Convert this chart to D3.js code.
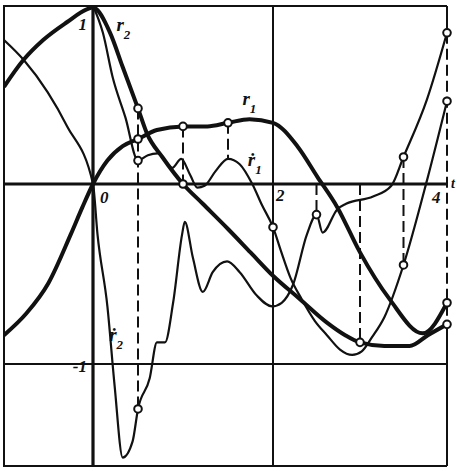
<!DOCTYPE html>
<html>
<head>
<meta charset="utf-8">
<script src="https://cdn.jsdelivr.net/npm/d3@7"></script>
<style>
    html, body { margin: 0; padding: 0; background: #fff; }
    svg { display: block; }
    .lbl { font-family: 'Liberation Serif', 'DejaVu Serif', serif; font-style: italic; font-weight: bold; fill: #111; }
</style>
</head>
<body>
<svg id="chart" width="457" height="471"></svg>
<script>
// plot window (t across, value up)
const tBreaks = [-1, 0, 2, 4]
const vMin = -1.567
const vMax = 0.989

const gridT = [0, 2]
const gridV = [0, -1]

// thick curves
const r1 = [[-1, -0.84], [-0.75, -0.72], [-0.5, -0.55], [-0.25, -0.28], [-0.12, -0.13], [0, 0],
    [0.16, 0.13], [0.33, 0.21], [0.5, 0.25], [0.71, 0.3], [1, 0.32], [1.27, 0.32], [1.5, 0.34],
    [1.74, 0.36], [2, 0.34], [2.28, 0.21], [2.51, 0.04], [2.74, -0.13], [3, -0.38], [3.34, -0.64],
    [3.72, -0.83], [4, -0.66]]
const r2 = [[-1, 0.54], [-0.78, 0.69], [-0.56, 0.8], [-0.29, 0.9], [-0.07, 0.97], [0, 0.98],
    [0.19, 0.84], [0.33, 0.65], [0.5, 0.42], [0.6, 0.28], [0.77, 0.15], [1, 0], [1.22, -0.11],
    [1.5, -0.25], [1.75, -0.38], [2, -0.51], [2.31, -0.64], [2.62, -0.77], [2.83, -0.84], [3, -0.88],
    [3.28, -0.9], [3.57, -0.9], [3.78, -0.84], [4, -0.78]]

// thin curves (derivatives)
const r1Dot = [[0, 0.99], [0.11, 0.84], [0.22, 0.59], [0.36, 0.37], [0.5, 0.13], [0.61, 0.16],
    [0.72, 0.17], [0.88, 0.09], [0.98, 0.14], [1.08, 0.05], [1.16, -0.02], [1.24, -0.01], [1.36, 0.07],
    [1.5, 0.14], [1.63, 0.11], [1.77, 0], [1.88, -0.12], [2, -0.24], [2.09, -0.37], [2.2, -0.52],
    [2.33, -0.64], [2.48, -0.76], [2.62, -0.84], [2.77, -0.92], [2.91, -0.95], [3.02, -0.93],
    [3.14, -0.85], [3.28, -0.74], [3.5, -0.45], [3.77, 0.02], [4, 0.46]]
const r2Dot = [[-1, 0.8], [-0.78, 0.69], [-0.51, 0.51], [-0.29, 0.32], [0, 0], [0.05, -0.28],
    [0.16, -0.68], [0.24, -1.12], [0.33, -1.52], [0.44, -1.43], [0.5, -1.25], [0.63, -1.08],
    [0.71, -0.88], [0.8, -0.88], [0.89, -0.66], [0.99, -0.28], [1.02, -0.21], [1.11, -0.41],
    [1.22, -0.6], [1.33, -0.49], [1.49, -0.43], [1.63, -0.49], [1.82, -0.62], [1.99, -0.68],
    [2.1, -0.66], [2.23, -0.56], [2.39, -0.28], [2.5, -0.17], [2.57, -0.27], [2.74, -0.14],
    [2.84, -0.11], [3.15, -0.07], [3.36, -0.01], [3.5, 0.15], [3.77, 0.47], [4, 0.84]]

// computed points and the dashed lines joining them
const markers = [[0.5, 0.42], [0.5, 0.25], [0.5, 0.13], [0.5, -1.25], [1, 0.32], [1, 0],
    [1.5, 0.34], [2, -0.24], [2.5, -0.17], [3, -0.88], [3.5, 0.15], [3.5, -0.45],
    [4, 0.84], [4, 0.46], [4, -0.66], [4, -0.78]]
const guides = [[0.5, 0.42, -1.25], [1, 0.32, 0], [1.5, 0.34, 0.14], [2.5, 0, -0.17],
    [3, 0, -0.88], [3.5, 0.15, -0.45], [4, 0.84, -0.78]]

const tTickVals = [0, 2, 4]
const vTickVals = [1, -1]

const seriesLabels = [
    { name: 'r', sub: '2', t: 0.26, v: 0.85 },
    { name: 'r', sub: '1', t: 1.66, v: 0.44 },
    { name: '\u1e59', sub: '1', t: 1.72, v: 0.1 },
    { name: '\u1e59', sub: '2', t: 0.18, v: -0.87 }
]

const ink = '#111'
const svg = d3.select('#chart')

const x = d3.scaleLinear().domain(tBreaks).range([4, 93, 273, 447])
const y = d3.scaleLinear().domain([vMin, vMax]).range([466, 6])

const tLeft = tBreaks[0]
const tRight = tBreaks[tBreaks.length - 1]

svg.append('clipPath').attr('id', 'plot')
    .append('rect')
    .attr('x', x(tLeft)).attr('y', y(vMax))
    .attr('width', x(tRight) - x(tLeft)).attr('height', y(vMin) - y(vMax))

// frame without its right side
svg.append('path')
    .attr('d', `M${x(tRight)},${y(vMax)}H${x(tLeft)}V${y(vMin)}H${x(tRight)}`)
    .attr('fill', 'none').attr('stroke', ink).attr('stroke-width', 2)

const lastGuide = guides[guides.length - 1]
svg.append('line')
    .attr('x1', x(tRight)).attr('x2', x(tRight))
    .attr('y1', y(vMax)).attr('y2', y(lastGuide[1]))
    .attr('stroke', ink).attr('stroke-width', 2)
svg.append('line')
    .attr('x1', x(tRight)).attr('x2', x(tRight))
    .attr('y1', y(lastGuide[2])).attr('y2', y(vMin))
    .attr('stroke', ink).attr('stroke-width', 2)

svg.selectAll('.gridT')
    .data(gridT)
    .enter()
    .append('line')
    .attr('x1', d => x(d)).attr('x2', d => x(d))
    .attr('y1', y(vMax)).attr('y2', y(vMin))
    .attr('stroke', ink)
    .attr('stroke-width', d => d === 0 ? 3.2 : 2)

svg.selectAll('.gridV')
    .data(gridV)
    .enter()
    .append('line')
    .attr('x1', x(tLeft)).attr('x2', x(tRight))
    .attr('y1', d => y(d)).attr('y2', d => y(d))
    .attr('stroke', ink)
    .attr('stroke-width', d => d === 0 ? 3.2 : 2)

svg.selectAll('.guide')
    .data(guides)
    .enter()
    .append('line')
    .attr('x1', d => x(d[0])).attr('x2', d => x(d[0]))
    .attr('y1', d => y(d[1])).attr('y2', d => y(d[2]))
    .attr('stroke', ink)
    .attr('stroke-width', 2)
    .attr('stroke-dasharray', '11,5')

const line = d3.line()
    .x(d => x(d[0]))
    .y(d => y(d[1]))
    .curve(d3.curveMonotoneX)

const plot = svg.append('g').attr('clip-path', 'url(#plot)')

plot.selectAll('.thin')
    .data([r1Dot, r2Dot])
    .enter()
    .append('path')
    .attr('d', line)
    .attr('fill', 'none')
    .attr('stroke', ink)
    .attr('stroke-width', 2.2)
    .attr('stroke-linejoin', 'round')

plot.selectAll('.thick')
    .data([r1, r2])
    .enter()
    .append('path')
    .attr('d', line)
    .attr('fill', 'none')
    .attr('stroke', ink)
    .attr('stroke-width', 4)
    .attr('stroke-linejoin', 'round')

svg.selectAll('.marker')
    .data(markers)
    .enter()
    .append('circle')
    .attr('cx', d => x(d[0]))
    .attr('cy', d => y(d[1]))
    .attr('r', 3.8)
    .attr('fill', '#fff')
    .attr('stroke', ink)
    .attr('stroke-width', 2)

// tick numbers
const tickOffsets = { 0: [7, 19], 2: [3, 17], 4: [-15, 19] }
svg.selectAll('.tlab')
    .data(tTickVals)
    .enter()
    .append('text')
    .attr('class', 'lbl')
    .attr('x', d => x(d) + tickOffsets[d][0])
    .attr('y', d => y(0) + tickOffsets[d][1])
    .attr('font-size', 17)
    .text(d => d)

svg.selectAll('.vlab')
    .data(vTickVals)
    .enter()
    .append('text')
    .attr('class', 'lbl')
    .attr('x', x(0) - 6)
    .attr('y', d => d > 0 ? y(d) + 26 : y(d) + 8)
    .attr('text-anchor', 'end')
    .attr('font-size', 17)
    .text(d => d > 0 ? d : '-' + Math.abs(d))

svg.append('text')
    .attr('class', 'lbl')
    .attr('x', x(tRight) + 4)
    .attr('y', y(0) + 4)
    .attr('font-size', 14)
    .text('t')

// series names, subscript set beside and below the letter
const names = svg.selectAll('.sname')
    .data(seriesLabels)
    .enter()
    .append('text')
    .attr('class', 'lbl')
    .attr('x', d => x(d.t))
    .attr('y', d => y(d.v))
    .attr('font-size', 19)

names.append('tspan').text(d => d.name)
names.append('tspan')
    .attr('dx', 0)
    .attr('dy', 8)
    .attr('font-size', 13)
    .text(d => d.sub)
</script>
</body>
</html>
